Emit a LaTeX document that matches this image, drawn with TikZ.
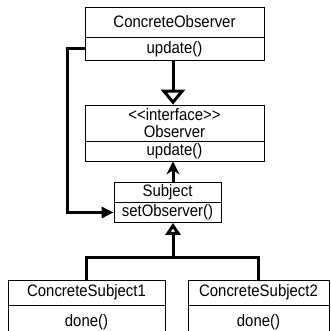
\documentclass[tikz,border=0pt]{standalone}
\usepackage{fontspec}
\setmainfont[FakeStretch=0.9]{Liberation Sans}
\usetikzlibrary{arrows.meta}

\begin{document}
\begin{tikzpicture}[x=1pt, y=-1pt,
		classbox/.style={draw, line width=0.8pt, inner sep=0pt, font=\fontsize{16.6}{17}\selectfont},
		link/.style={line width=3pt}]
			%%%%% START %%%%%
			
			\useasboundingbox (0, 0) rectangle (331, 331);
			
			\node[classbox, minimum width=179, minimum height=30] (conobs) at (174.5, 22) {ConcreteObserver};
			\node[classbox, minimum width=179, minimum height=23.5] (conobsop) at (174.5, 48.75) {update()};
			
			\node[classbox, minimum width=179, minimum height=36, align=center] (obs) at (174.5, 123) {<{}<interface>{}>\\Observer};
			\node[classbox, minimum width=179, minimum height=20] (obsop) at (174.5, 151) {update()};
			
			\node[classbox, minimum width=107, minimum height=20] (subj) at (167.5, 192.5) {Subject};
			\node[classbox, minimum width=107, minimum height=20] (subjop) at (167.5, 212.5) {setObserver()};
			
			\node[classbox, minimum width=157, minimum height=25] (consubA) at (86.5, 292.5) {ConcreteSubject1};
			\node[classbox, minimum width=157, minimum height=34] (consubAop) at (86.5, 322) {done()};
			\node[classbox, minimum width=141, minimum height=25] (consubB) at (258.5, 292.5) {ConcreteSubject2};
			\node[classbox, minimum width=141, minimum height=34] (consubBop) at (258.5, 322) {done()};
			
			\coordinate (fork) at (173, 257);
			
			\draw[link, -{Triangle[open, length=15pt, width=24pt]}] (conobsop.south -| fork) -- (obs.north -| fork);
			\draw[link, -{Stealth[length=13pt, width=13pt]}] (subj.north -| fork) -- (obsop.south -| fork);
			\draw[link, -{Triangle[length=12pt, width=11pt]}] (conobsop.west) -- ++(-17, 0) |- (subjop.west);
			
			\draw[link] (consubA.north) |- (fork) -| (consubB.north);
			\draw[link, -{Triangle[open, length=12pt, width=15pt]}] (fork) -- (fork |- subjop.south);
			
			%%%%% END %%%%%
\end{tikzpicture}
\end{document}
